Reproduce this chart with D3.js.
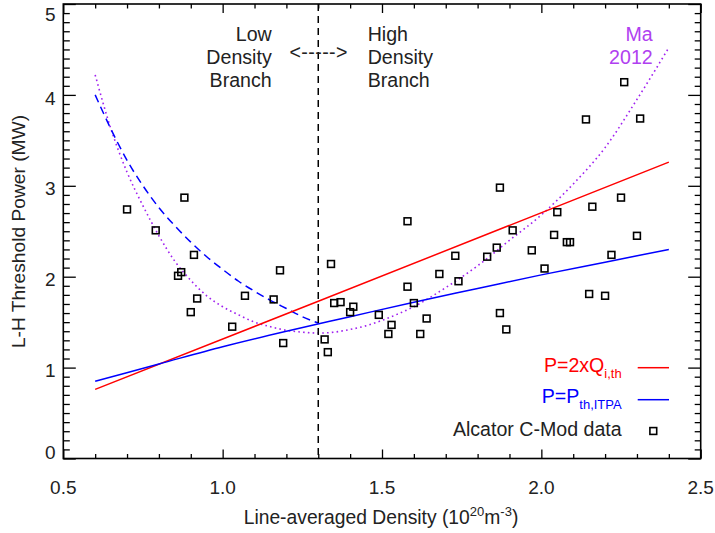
<!DOCTYPE html>
<html><head><meta charset="utf-8">
<script src="https://cdn.jsdelivr.net/npm/d3@7"></script>
<style>body{margin:0;background:#fff}svg{display:block}text{font-family:"Liberation Sans",Arial,Helvetica,sans-serif}</style>
</head><body><svg id="c" width="715" height="533"></svg>
<script>
const xTicks = [0.5, 1.0, 1.5, 2.0, 2.5];
const xTickLabels = ["0.5", "1.0", "1.5", "2.0", "2.5"];
const yTicks = [0, 1, 2, 3, 4, 5];
const yTickLabels = ["0", "1", "2", "3", "4", "5"];

// Alcator C-Mod data
const density = [0.70,0.79,0.88,0.91,0.86,0.87,0.90,0.92,1.03,1.07,1.16,1.18,1.19,1.32,1.33,1.34,1.35,1.37,1.40,1.41,1.49,1.52,1.53,1.58,1.58,1.60,1.62,1.64,1.68,1.73,1.74,1.83,1.86,1.87,1.87,1.89,1.91,1.97,2.01,2.04,2.05,2.08,2.09,2.14,2.15,2.16,2.20,2.22,2.25,2.26,2.30,2.31];
const power   = [2.74,2.51,2.87,2.24,2.01,2.05,1.61,1.76,1.45,1.79,1.75,2.07,1.27,1.31,1.17,2.14,1.71,1.72,1.61,1.67,1.58,1.37,1.47,2.61,1.89,1.71,1.37,1.54,2.03,2.23,1.95,2.22,2.32,2.98,1.60,1.42,2.51,2.29,2.09,2.46,2.71,2.38,2.38,3.73,1.81,2.77,1.79,2.24,2.87,4.14,2.45,3.74];

// P = 2 x Q_i,th (red)
const qX = [0.6, 1.3, 2.4];
const qY = [0.76, 1.73, 3.26];
// P = P_th,ITPA (blue solid, high density branch)
const itpaX = [0.6,0.8,1.0,1.2,1.4,1.6,1.8,2.0,2.2,2.4];
const itpaY = [0.85,1.04,1.23,1.40,1.56,1.72,1.87,2.02,2.16,2.30];
// low density branch (blue dashed)
const lowX = [0.6,0.65,0.7,0.75,0.8,0.85,0.9,0.95,1.0,1.05,1.1,1.15,1.2,1.25,1.3];
const lowY = [4.00,3.62,3.28,3.00,2.76,2.56,2.38,2.22,2.08,1.95,1.84,1.74,1.65,1.56,1.49];
// Ma 2012 (purple dotted)
const maX = [0.6,0.65,0.7,0.75,0.8,0.85,0.9,0.95,1.0,1.05,1.1,1.15,1.2,1.25,1.3,1.35,1.4,1.45,1.5,1.55,1.6,1.65,1.7,1.8,1.9,2.0,2.1,2.2,2.3,2.4];
const maY = [4.22,3.62,3.15,2.78,2.45,2.17,1.96,1.79,1.67,1.58,1.50,1.45,1.41,1.39,1.38,1.39,1.42,1.46,1.52,1.59,1.67,1.77,1.88,2.12,2.40,2.68,3.02,3.42,3.95,4.52];
const splitX = 1.3;

const L = 63.3, R = 700.7, T = 4, B = 458.5;
const svg = d3.select("#c");
const x = d3.scaleLinear().domain([0.5, 2.5]).range([L, R]);
const y = d3.scaleLinear().domain([0, 5]).range([B, T]);
const ink = "#222";
const FS = 19;

// minor ticks
const xMinor = d3.range(0.5, 2.5001, 0.1).map(v => +v.toFixed(2));
const yMinor = d3.range(0, 5.0001, 0.1).map(v => +v.toFixed(2));
const isMajX = v => xTicks.some(t => Math.abs(t - v) < 1e-6);
const isMajY = v => yTicks.some(t => Math.abs(t - v) < 1e-6);

function drawAxis(axisGen, transform) {
  const g = svg.append("g").attr("transform", transform).call(axisGen);
  g.select(".domain").remove();
  g.selectAll("line").attr("stroke", "#000").attr("stroke-width", 1.3);
  return g;
}
// bottom
drawAxis(d3.axisTop(x).tickValues(xMinor).tickSize(4.5).tickFormat(""), `translate(0,${B})`)
  .selectAll(".tick line").attr("y2", d => isMajX(d) ? -9 : -4.5);
// top
drawAxis(d3.axisBottom(x).tickValues(xMinor).tickSize(4.5).tickFormat(""), `translate(0,${T})`)
  .selectAll(".tick line").attr("y2", d => isMajX(d) ? 9 : 4.5);
// left
drawAxis(d3.axisRight(y).tickValues(yMinor).tickSize(6.5).tickFormat(""), `translate(${L},0)`)
  .selectAll(".tick line").attr("x2", d => isMajY(d) ? 12.5 : 6.5);
// right
drawAxis(d3.axisLeft(y).tickValues(yMinor).tickSize(6).tickFormat(""), `translate(${R},0)`)
  .selectAll(".tick line").attr("x2", d => isMajY(d) ? -12.5 : -6);

// frame
svg.append("rect").attr("x", L).attr("y", T).attr("width", R - L).attr("height", B - T)
  .attr("fill", "none").attr("stroke", "#000").attr("stroke-width", 1.6);

// tick labels
svg.append("g").selectAll("text").data(xTicks).join("text")
  .attr("x", d => x(d)).attr("y", 494.3).attr("text-anchor", "middle")
  .attr("font-size", FS).attr("fill", ink).text((d, i) => xTickLabels[i]);
svg.append("g").selectAll("text").data(yTicks).join("text")
  .attr("x", 55.5).attr("y", d => Math.min(B - 6, Math.max(T + 10.5, y(d) + 3)))
  .attr("dy", "0.35em").attr("text-anchor", "end")
  .attr("font-size", FS).attr("fill", ink).text((d, i) => yTickLabels[i]);

// axis titles
const xt = svg.append("text").attr("x", 381).attr("y", 524.3).attr("text-anchor", "middle")
  .attr("font-size", 19.3).attr("fill", ink);
xt.append("tspan").text("Line-averaged Density (10");
xt.append("tspan").attr("font-size", 13).attr("dy", -8).text("20");
xt.append("tspan").attr("dy", 8).text("m");
xt.append("tspan").attr("font-size", 13).attr("dy", -8).text("-3");
xt.append("tspan").attr("dy", 8).text(")");

svg.append("text").attr("transform", "translate(25,231.5) rotate(-90)").attr("text-anchor", "middle")
  .attr("font-size", 19.2).attr("fill", ink).text("L-H Threshold Power (MW)");

// lines
const line = d3.line().x(d => x(d[0])).y(d => y(d[1])).curve(d3.curveMonotoneX);
const zip = (a, b) => a.map((v, i) => [v, b[i]]);
svg.append("path").datum(zip(maX, maY)).attr("d", line).attr("fill", "none")
  .attr("stroke", "#a020f0").attr("stroke-width", 1.6).attr("stroke-dasharray", "1.6,3.2");
svg.append("path").datum(zip(lowX, lowY)).attr("d", line).attr("fill", "none")
  .attr("stroke", "#0000ff").attr("stroke-width", 1.5).attr("stroke-dasharray", "8,5");
svg.append("path").datum(zip(qX, qY)).attr("d", line).attr("fill", "none")
  .attr("stroke", "#ff0000").attr("stroke-width", 1.5);
svg.append("path").datum(zip(itpaX, itpaY)).attr("d", line).attr("fill", "none")
  .attr("stroke", "#0000ff").attr("stroke-width", 1.5);

// vertical split line
svg.append("line").attr("x1", x(splitX)).attr("x2", x(splitX)).attr("y1", T).attr("y2", B)
  .attr("stroke", "#000").attr("stroke-width", 1.5).attr("stroke-dasharray", "7,5");

// data squares
const S = 6.8;
svg.append("g").selectAll("rect").data(zip(density, power)).join("rect")
  .attr("x", d => x(d[0]) - S / 2).attr("y", d => y(d[1]) - S / 2)
  .attr("width", S).attr("height", S).attr("fill", "none")
  .attr("stroke", "#000").attr("stroke-width", 1.6);

// annotations
const AF = 19.6;
function multi(lines, xx, anchor, color) {
  lines.forEach((t, i) => svg.append("text").attr("x", xx).attr("y", 41 + i * 23.2)
    .attr("text-anchor", anchor).attr("font-size", AF).attr("fill", color).text(t));
}
multi(["Low", "Density", "Branch"], 271.7, "end", ink);
multi(["High", "Density", "Branch"], 367.7, "start", ink);
multi(["Ma", "2012"], 652.7, "end", "#b040f0");
svg.append("text").attr("x", 289.5).attr("y", 59).attr("font-size", AF).attr("fill", ink)
  .attr("textLength", 58).attr("lengthAdjust", "spacing").text("<----->");

// legend
function legText(yb, main, sub, color) {
  const t = svg.append("text").attr("x", 621.7).attr("y", yb).attr("text-anchor", "end")
    .attr("font-size", AF).attr("fill", color);
  t.append("tspan").text(main);
  if (sub) t.append("tspan").attr("font-size", 13).attr("dy", 6).text(sub);
}
legText(372.3, "P=2xQ", "i,th", "#ff0000");
legText(403.3, "P=P", "th,ITPA", "#0000ff");
legText(435.7, "Alcator C-Mod data", null, ink);
svg.append("line").attr("x1", 637.7).attr("x2", 669).attr("y1", 367.7).attr("y2", 367.7)
  .attr("stroke", "#ff0000").attr("stroke-width", 1.5);
svg.append("line").attr("x1", 637.7).attr("x2", 669).attr("y1", 399.7).attr("y2", 399.7)
  .attr("stroke", "#0000ff").attr("stroke-width", 1.5);
svg.append("rect").attr("x", 653.3 - S / 2).attr("y", 431 - S / 2).attr("width", S).attr("height", S)
  .attr("fill", "none").attr("stroke", "#000").attr("stroke-width", 1.6);
</script></body></html>
